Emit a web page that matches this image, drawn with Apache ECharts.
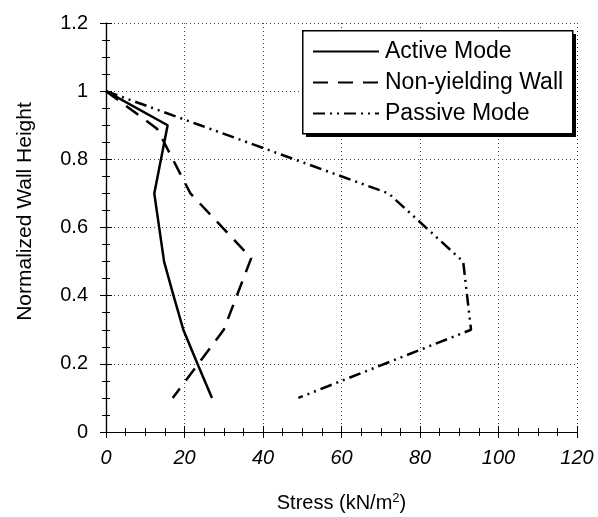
<!DOCTYPE html>
<html>
<head>
<meta charset="utf-8">
<script src="https://cdn.jsdelivr.net/npm/echarts@6/dist/echarts.min.js"></script>
<style>
  html, body { margin: 0; padding: 0; background: #fff; }
  #main { width: 598px; height: 517px; }
</style>
</head>
<body>
<div id="main"></div>
<script>
// values: [stress kN/m2, normalized height]
var activeMode = [[0, 1], [15.7, 0.9], [12.3, 0.7], [14.8, 0.5], [17.2, 0.4], [19.7, 0.3], [23.3, 0.2], [27, 0.1]];
var nonYielding = [[0, 1], [13, 0.89], [21.5, 0.7], [37, 0.51], [30, 0.3], [17, 0.1]];
var passiveMode = [[0, 1], [24, 0.9], [72, 0.7], [91, 0.5], [93, 0.3], [49, 0.1]];
var seriesNames = ["Active Mode", "Non-yielding Wall", "Passive Mode"];

var font = "'Liberation Sans', Arial, sans-serif";
var chart = echarts.init(document.getElementById("main"));

// frame axes (top / right) only draw the border and the inner ticks
function frameAxis(extra) {
  return Object.assign({
    type: "value",
    axisLine: { show: true, lineStyle: { color: "#000", width: 1.2 } },
    axisTick: { show: true, inside: true, length: 6, lineStyle: { color: "#000" } },
    minorTick: { show: true, splitNumber: 4, length: 4, lineStyle: { color: "#000" } },
    axisLabel: { show: false },
    splitLine: { show: false }
  }, extra);
}

chart.setOption({
  animation: false,
  grid: { left: 106, right: 21, top: 23, bottom: 85, outerBoundsMode: "none" },
  // legend frame with its hard black drop shadow
  graphic: [
    { type: "rect", left: 306, top: 34, z: 10, shape: { width: 270, height: 103 }, style: { fill: "#000" } },
    { type: "rect", left: 302, top: 30, z: 11, shape: { width: 270, height: 103 }, style: { fill: "#fff", stroke: "#000", lineWidth: 1.5 } }
  ],
  legend: {
    data: seriesNames,
    orient: "vertical",
    left: 312,
    top: 40,
    z: 20,
    padding: 0,
    itemGap: 8,
    itemWidth: 66,
    itemHeight: 23,
    itemStyle: { color: "rgba(0,0,0,0)", borderWidth: 0 },
    textStyle: { fontFamily: font, fontSize: 23, color: "#000", padding: [0, 0, 0, 1] }
  },
  xAxis: [
    {
      type: "value",
      min: 0,
      max: 120,
      interval: 20,
      name: "Stress (kN/m{sup|2})",
      nameLocation: "middle",
      nameGap: 60,
      nameTextStyle: {
        fontFamily: font, fontSize: 20, color: "#000",
        rich: { sup: { fontSize: 13, verticalAlign: "top", padding: [0, 0, 9, 0], fontFamily: font } }
      },
      axisLine: { show: true, onZero: false, lineStyle: { color: "#000", width: 1.2 } },
      axisTick: { show: true, inside: true, length: 6, lineStyle: { color: "#000" } },
      minorTick: { show: true, splitNumber: 4, length: 4, lineStyle: { color: "#000" } },
      axisLabel: { fontFamily: font, fontSize: 20, fontStyle: "italic", color: "#000", margin: 16 },
      splitLine: { show: true, lineStyle: { color: "#444", type: [1, 3], width: 1 } }
    },
    frameAxis({ position: "top", min: 0, max: 120, interval: 20 })
  ],
  yAxis: [
    {
      type: "value",
      min: 0,
      max: 1.2,
      interval: 0.2,
      name: "Normalized Wall Height",
      nameLocation: "middle",
      nameGap: 70,
      nameTextStyle: { fontFamily: font, fontSize: 21, color: "#000", padding: [0, 0, 0, 32] },
      axisLine: { show: true, onZero: false, lineStyle: { color: "#000", width: 1.2 } },
      axisTick: { show: true, inside: true, length: 6, lineStyle: { color: "#000" } },
      minorTick: { show: true, splitNumber: 4, length: 4, lineStyle: { color: "#000" } },
      axisLabel: {
        fontFamily: font, fontSize: 20, color: "#000", margin: 18,
        formatter: function (v) { return String(Math.round(v * 10) / 10); }
      },
      splitLine: { show: true, lineStyle: { color: "#444", type: [1, 3], width: 1 } }
    },
    frameAxis({ position: "right", min: 0, max: 1.2, interval: 0.2 })
  ],
  series: [
    {
      name: seriesNames[0],
      type: "line",
      data: activeMode,
      symbol: "none",
      lineStyle: { color: "#000", width: 2.5, type: "solid" },
      itemStyle: { color: "#000" }
    },
    {
      name: seriesNames[1],
      type: "line",
      data: nonYielding,
      symbol: "none",
      lineStyle: { color: "#000", width: 2.5, type: [15, 10] },
      itemStyle: { color: "#000" }
    },
    {
      name: seriesNames[2],
      type: "line",
      data: passiveMode,
      symbol: "none",
      lineStyle: { color: "#000", width: 2.5, type: [12, 5, 2, 5, 2, 5] },
      itemStyle: { color: "#000" }
    }
  ]
});
</script>
</body>
</html>
